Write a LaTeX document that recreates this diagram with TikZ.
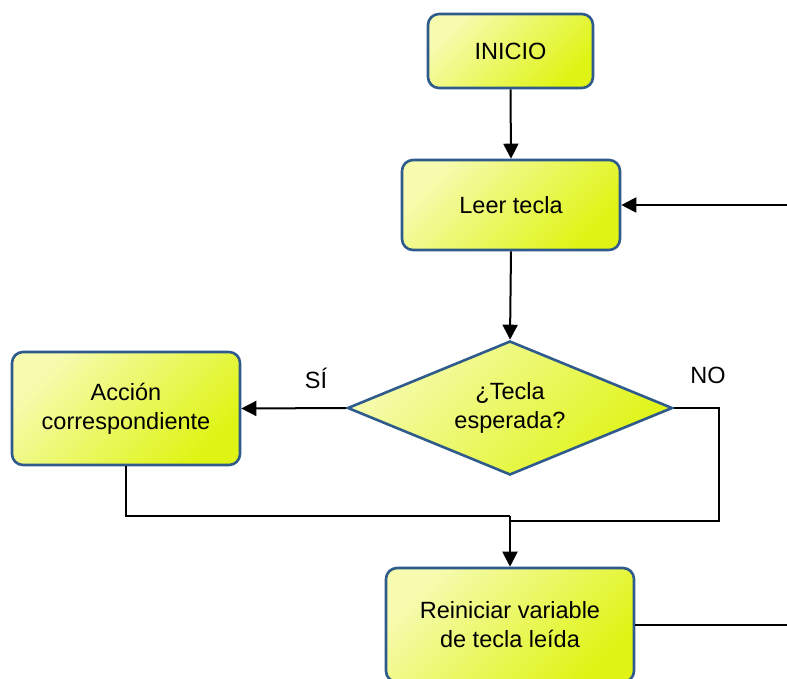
\documentclass[tikz,border=0pt]{standalone}
\usepackage{fontspec}
\setmainfont{Liberation Sans}
\usetikzlibrary{shapes.geometric,arrows.meta}
\definecolor{boxlight}{HTML}{F6FBB0}
\definecolor{boxdark}{HTML}{DFF414}
\definecolor{boxedge}{HTML}{2F5B8C}
\tikzset{
  boxfill/.style={top color=boxlight, bottom color=boxdark, shading angle=45},
  labelfont/.style={font=\fontsize{23.5}{29}\selectfont},
  stepbox/.style={draw=boxedge, line width=2.6pt, rounded corners=11pt,
    boxfill, align=center, inner sep=0pt, labelfont},
  decision/.style={diamond, aspect=2.4, draw=boxedge, line width=2.6pt, boxfill,
    align=center, inner sep=0pt, minimum width=325pt, minimum height=134pt,
    labelfont},
  link/.style={line width=2pt, draw=black},
  arr/.style={link, -{Triangle[length=15pt,width=15pt]}},
  tag/.style={labelfont}
}
\begin{document}
\begin{tikzpicture}[x=1pt,y=-1pt]
\useasboundingbox (0,0) rectangle (787,678);

% process boxes
\node[stepbox, minimum width=165pt, minimum height=74pt] (inicio) at (510.5,51) {INICIO};
\node[stepbox, minimum width=218pt, minimum height=90pt] (leer) at (511,205) {Leer tecla};
\node[decision] (dec) at (510,408) {¿Tecla\\esperada?};
\node[stepbox, minimum width=228pt, minimum height=113pt] (accion) at (126,408.5) {Acción\\correspondiente};
\node[stepbox, minimum width=248pt, minimum height=114pt] (reini) at (510,625) {Reiniciar variable\\de tecla leída};

% branch labels
\node[tag] (si) at (316,378) {SÍ};
\node[tag] (no) at (708,375) {NO};

% helper points for the routed lines
\coordinate (loopin) at (787,205);
\coordinate (loopout) at (787,625);
\coordinate (nocorner) at (719,521);
\coordinate (noend) at (510,521);
\coordinate (merge) at (510,516);

% connectors
\draw[arr] (inicio.south) -- (leer.north);
\draw[arr] (leer.south) -- (dec.north);
\draw[arr] (loopin) -- (leer.east);
\draw[arr] (dec.west) -- (accion.east);
\draw[link] (dec.east) -| (nocorner) -- (noend);
\draw[link] (accion.south) |- (merge);
\draw[arr] (merge) -- (reini.north);
\draw[link] (reini.east) -- (loopout);
\end{tikzpicture}
\end{document}
